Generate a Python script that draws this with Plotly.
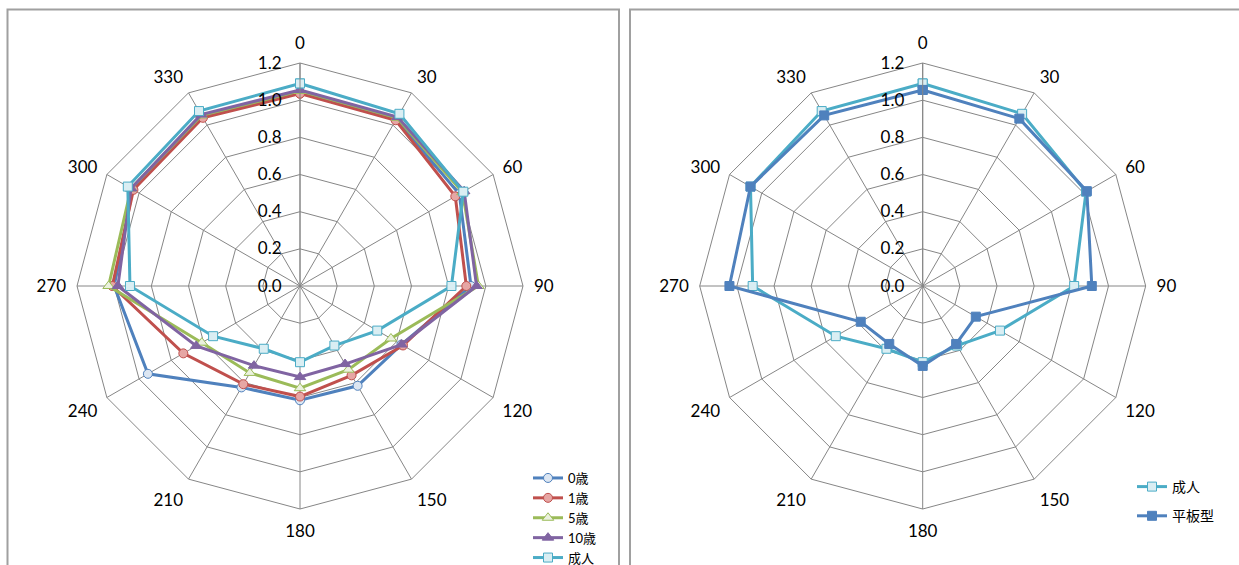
import plotly.graph_objects as go

# Direction categories (degrees)
angles = ["0", "30", "60", "90", "120", "150", "180", "210", "240", "270", "300", "330"]

# Left panel: by age group
age_0 = [1.04, 1.035, 0.99, 0.92, 0.63, 0.62, 0.615, 0.63, 0.945, 1.0, 1.04, 1.05]
age_1 = [1.035, 1.03, 0.965, 0.895, 0.64, 0.555, 0.595, 0.61, 0.725, 1.01, 1.035, 1.045]
age_5 = [1.05, 1.045, 1.01, 0.96, 0.565, 0.52, 0.55, 0.54, 0.61, 1.03, 1.05, 1.06]
age_10 = [1.055, 1.05, 1.02, 0.95, 0.63, 0.485, 0.49, 0.495, 0.645, 0.98, 1.05, 1.065]
adult = [1.09, 1.07, 1.015, 0.815, 0.48, 0.37, 0.41, 0.39, 0.54, 0.915, 1.07, 1.087]

# Right panel: adult vs flat type
flat = [1.055, 1.04, 1.02, 0.91, 0.33, 0.36, 0.43, 0.36, 0.385, 1.04, 1.07, 1.06]

radial_ticks = [0.0, 0.2, 0.4, 0.6, 0.8, 1.0, 1.2]

FONT = "Lato, 'Noto Sans CJK JP', sans-serif"
GRID = "#868686"
CLEAR = "rgba(0,0,0,0)"


def closed(vals):
    return list(vals) + [vals[0]]


theta = closed(angles)

left_series = [
    ("0歳", age_0, "#4F81BD", "circle", "#DCE6F2", "#4F81BD", 9),
    ("1歳", age_1, "#C0504D", "circle", "#E6A6A4", "#C0504D", 9),
    ("5歳", age_5, "#9BBB59", "triangle-up", "#EBF1DE", "#9BBB59", 10),
    ("10歳", age_10, "#8064A2", "triangle-up", "#8064A2", "#8064A2", 10),
    ("成人", adult, "#4BACC6", "square", "#DAEEF3", "#4BACC6", 9),
]
right_series = [
    ("成人", adult, "#4BACC6", "square", "#DAEEF3", "#4BACC6", 9),
    ("平板型", flat, "#4F81BD", "square", "#4F81BD", "#4F81BD", 9),
]

fig = go.Figure()
for name, vals, color, sym, fill, edge, size in left_series:
    fig.add_trace(go.Scatterpolar(
        r=closed(vals), theta=theta, name=name, subplot="polar",
        mode="lines+markers", legend="legend",
        line=dict(color=color, width=3),
        marker=dict(symbol=sym, size=size, color=fill, line=dict(color=edge, width=1)),
    ))
for i, (name, vals, color, sym, fill, edge, size) in enumerate(right_series):
    fig.add_trace(go.Scatterpolar(
        r=closed(vals), theta=theta, name=name, subplot="polar2",
        mode="lines+markers", legend="legend2", legendgroup=f"g{i}",
        line=dict(color=color, width=3),
        marker=dict(symbol=sym, size=size, color=fill, line=dict(color=edge, width=1)),
    ))


def polar_layout(x0, x1):
    return dict(
        domain=dict(x=[x0, x1], y=[0.0991, 0.8885]),
        bgcolor="white",
        gridshape="linear",
        angularaxis=dict(
            type="category", categoryarray=angles, direction="clockwise", rotation=90,
            showline=True, linecolor=GRID, linewidth=1,
            gridcolor=GRID, gridwidth=1,
            ticks="outside", ticklen=7, tickcolor=CLEAR,
            tickfont=dict(family=FONT, size=17, color="#000000"),
        ),
        radialaxis=dict(
            range=[0, 1.2], tickvals=radial_ticks, tickformat=".1f",
            angle=90, side="counterclockwise", tickangle=90,
            showline=True, linecolor=GRID, linewidth=1,
            gridcolor=GRID, gridwidth=1,
            ticks="outside", ticklen=12, tickcolor=CLEAR,
            tickfont=dict(family=FONT, size=17, color="#000000"),
        ),
    )


fig.update_layout(
    width=1239, height=565,
    margin=dict(l=0, r=0, t=0, b=0, autoexpand=False),
    paper_bgcolor="white",
    font=dict(family=FONT, color="#000000"),
    polar=polar_layout(77 / 1239, 523 / 1239),
    polar2=polar_layout(699.7 / 1239, 1145.7 / 1239),
    legend=dict(
        x=528 / 1239, y=1 - 463 / 565, xanchor="left", yanchor="top",
        bgcolor=CLEAR, font=dict(family=FONT, size=13),
        itemwidth=30, tracegroupgap=0,
    ),
    legend2=dict(
        x=1132 / 1239, y=1 - 471 / 565, xanchor="left", yanchor="top",
        bgcolor=CLEAR, font=dict(family=FONT, size=14),
        itemwidth=30, tracegroupgap=8,
    ),
    shapes=[
        dict(type="rect", xref="paper", yref="paper",
             x0=7.5 / 1239, x1=619 / 1239, y0=-0.1, y1=1 - 9.5 / 565,
             line=dict(color="#A0A0A0", width=2)),
        dict(type="rect", xref="paper", yref="paper",
             x0=630 / 1239, x1=1.05, y0=-0.1, y1=1 - 9.5 / 565,
             line=dict(color="#A0A0A0", width=2)),
    ],
)

fig.write_html("out.html")
